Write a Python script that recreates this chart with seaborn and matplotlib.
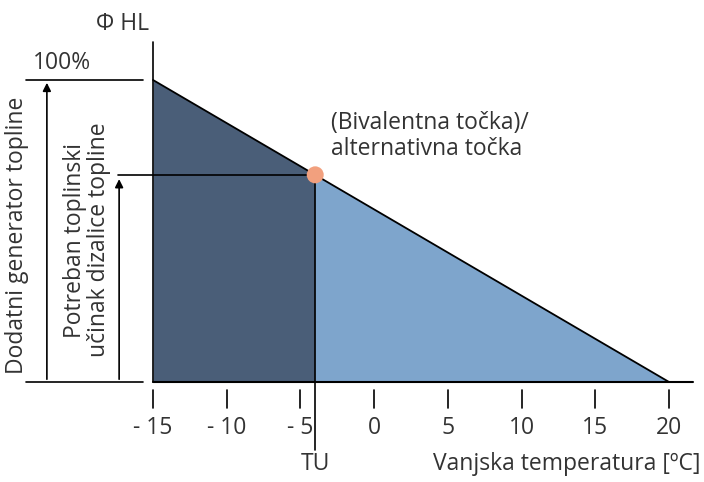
import matplotlib
matplotlib.use("Agg")
import matplotlib.pyplot as plt
import seaborn as sns
import pandas as pd

# values
temps = [-15, 20]
load = [100, 0]
tu_temp = -4
tu_load = 68.6
ticks = [-15, -10, -5, 0, 5, 10, 15, 20]
tick_labels = ["- 15", "- 10", "- 5", "0", "5", "10", "15", "20"]

dark = "#4a5e78"
light = "#7ea5cc"
txt = "#333333"
font = "Open Sans"
fs = 16.5

sns.set_style("white")
plt.rcParams['font.family'] = [font, 'DejaVu Sans']

fig = plt.figure(figsize=(7.04, 4.82), dpi=100)
ax = fig.add_axes([0, 0, 1, 1])
ax.set_xlim(-25.38, 22.37)
ax.set_ylim(-33.11, 126.49)
ax.axis("off")

# filled areas
ax.fill_between([temps[0], tu_temp], [0, 0], [load[0], tu_load], color=dark, lw=0)
ax.fill_between([tu_temp, temps[1]], [0, 0], [tu_load, load[1]], color=light, lw=0)

# demand line
df = pd.DataFrame({"temp": temps, "load": load})
sns.lineplot(data=df, x="temp", y="load", ax=ax, color="black", lw=1.3)

# axes and guide lines
ax.plot([-15, -15], [0, 112.5], color="black", lw=1.2)
ax.plot([-15, 21.6], [0, 0], color="black", lw=1.5)
ax.plot([-23.6, -15.7], [0, 0], color="black", lw=1.2)
ax.plot([-23.6, -15.7], [100, 100], color="black", lw=1.2)
ax.plot([-17.4, tu_temp], [tu_load, tu_load], color="black", lw=1.2)
ax.plot([tu_temp, tu_temp], [0, tu_load], color="black", lw=1.2)
ax.plot([tu_temp, tu_temp], [0, -22.5], color="black", lw=1.2)

# arrows
ax.annotate("", xy=(-22.2, 100), xytext=(-22.2, 0),
            arrowprops=dict(arrowstyle="-|>", color="black", lw=1.2, mutation_scale=12))
ax.annotate("", xy=(-17.3, tu_load - 0.5), xytext=(-17.3, 0),
            arrowprops=dict(arrowstyle="-|>", color="black", lw=1.2, mutation_scale=12))

# ticks
for t, lab in zip(ticks, tick_labels):
    ax.plot([t, t], [-2.6, -8.6], color="black", lw=1.2)
    ax.text(t, -15.2, lab, ha="center", va="center", fontsize=fs, color=txt)

# bivalent point
pt = pd.DataFrame({"temp": [tu_temp], "load": [tu_load]})
sns.scatterplot(data=pt, x="temp", y="load", ax=ax, color="#f2a07e", s=150,
                edgecolor="none", zorder=5)

# texts
ax.text(-15.3, 118.5, "Φ HL", ha="right", va="center", fontsize=fs, color=txt)
ax.text(-23.14, 105.6, "100%", ha="left", va="center", fontsize=fs, color=txt)
ax.text(-24.2, 48.7, "Dodatni generator topline", rotation=90, ha="center",
        va="center", fontsize=fs, color=txt)
ax.text(-19.45, 47, "Potreban toplinski\nučinak dizalice topline", rotation=90,
        ha="center", va="center", fontsize=fs, color=txt, linespacing=1.0)
ax.text(-2.93, 81.5, "(Bivalentna točka)/\nalternativna točka", ha="left",
        va="center", fontsize=fs, color=txt, linespacing=1.1)
ax.text(tu_temp, -27.2, "TU", ha="center", va="center", fontsize=fs, color=txt)
ax.text(22.1, -27.2, "Vanjska temperatura [ºC]", ha="right", va="center",
        fontsize=fs, color=txt)

fig.savefig("out.png", dpi=100)
